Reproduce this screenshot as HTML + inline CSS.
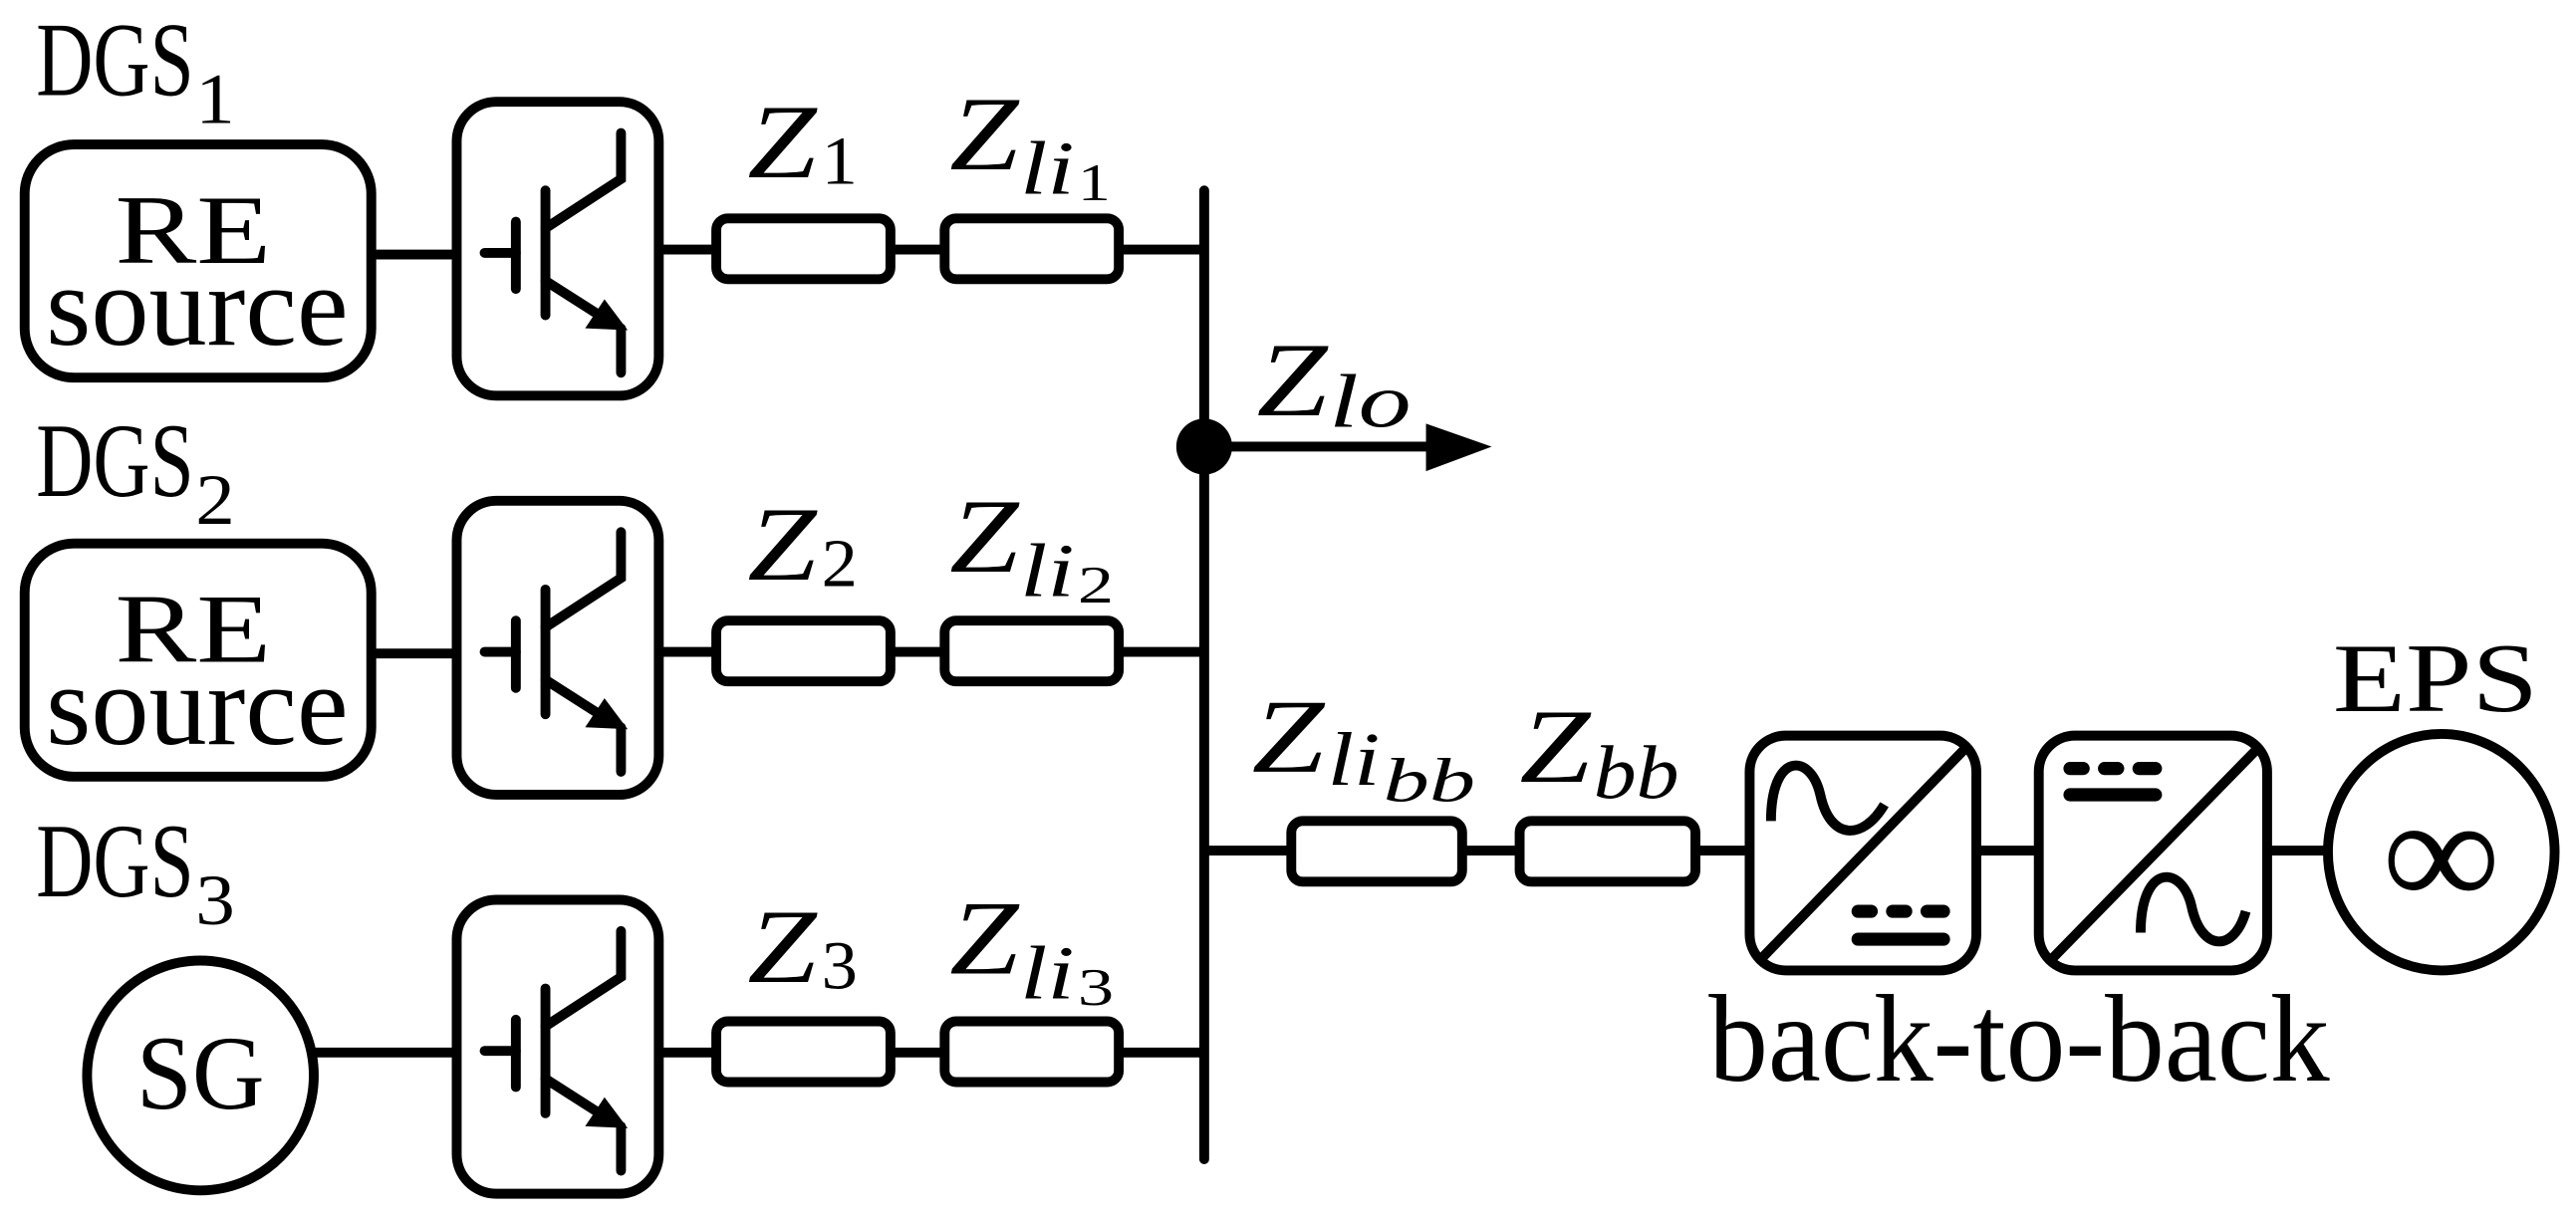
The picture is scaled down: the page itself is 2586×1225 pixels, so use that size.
<!DOCTYPE html>
<html><head><meta charset="utf-8"><style>
html,body{margin:0;padding:0;background:#fff;}
svg{display:block;}
</style></head><body>
<svg width="2586" height="1225" viewBox="0 0 1568 743" preserveAspectRatio="none" xmlns="http://www.w3.org/2000/svg" font-family="'Liberation Serif','DejaVu Serif','Times New Roman',serif">
<defs>
<g id="igbt" fill="none" stroke="#000" stroke-width="6" stroke-linecap="round">
  <rect x="278" y="62" width="123" height="179" rx="24"/>
  <line x1="295" y1="154" x2="314" y2="154"/>
  <line x1="314" y1="135" x2="314" y2="176"/>
  <line x1="332" y1="116" x2="332" y2="192"/>
  <polyline points="332,139 378,109 378,81"/>
  <line x1="332" y1="171" x2="368" y2="194"/>
  <line x1="378" y1="200" x2="378" y2="227"/>
  <polygon points="380,200 358,199 368,184" fill="#000" stroke-width="2"/>
</g>
<g id="zz" fill="none" stroke="#000" stroke-width="6">
  <rect x="436" y="0" width="106" height="37" rx="7"/>
  <rect x="575" y="0" width="106" height="37" rx="7"/>
</g>
</defs>
<g fill="none" stroke="#000" stroke-width="6">
  <rect x="15" y="88" width="211" height="142" rx="30"/>
  <rect x="15" y="331" width="211" height="142" rx="30"/>
  <ellipse cx="122" cy="655" rx="69" ry="70"/>
  <line x1="226" y1="155" x2="278" y2="155"/>
  <line x1="226" y1="398" x2="278" y2="398"/>
  <line x1="191" y1="641" x2="278" y2="641"/>
  <line x1="401" y1="152" x2="436" y2="152"/>
  <line x1="542" y1="152" x2="575" y2="152"/>
  <line x1="681" y1="152" x2="733" y2="152"/>
  <line x1="401" y1="397" x2="436" y2="397"/>
  <line x1="542" y1="397" x2="575" y2="397"/>
  <line x1="681" y1="397" x2="733" y2="397"/>
  <line x1="401" y1="641" x2="436" y2="641"/>
  <line x1="542" y1="641" x2="575" y2="641"/>
  <line x1="681" y1="641" x2="733" y2="641"/>
  <line x1="733" y1="116" x2="733" y2="706" stroke-linecap="round"/>
  <line x1="733" y1="272" x2="875" y2="272"/>
  <line x1="733" y1="518" x2="786" y2="518"/>
  <rect x="786" y="500" width="104" height="37" rx="7"/>
  <line x1="890" y1="518" x2="925" y2="518"/>
  <rect x="925" y="500" width="107" height="37" rx="7"/>
  <line x1="1032" y1="518" x2="1064" y2="518"/>
  <rect x="1065" y="448" width="138" height="143" rx="22"/>
  <line x1="1203" y1="518" x2="1241" y2="518"/>
  <rect x="1241" y="448" width="139" height="143" rx="22"/>
  <line x1="1380" y1="518" x2="1417" y2="518"/>
  <ellipse cx="1486" cy="519" rx="69" ry="72"/>
  <line x1="1198" y1="454" x2="1070" y2="586"/>
  <path d="M1078,500 C1078,458 1102,458 1108,484 C1114,512 1134,512 1147,490"/>
  <line x1="1376" y1="454" x2="1247" y2="586"/>
  <path d="M1303,568 C1303,526 1328,526 1334,552 C1340,580 1360,580 1367,555"/>
</g>
<g stroke="#000" stroke-width="8" stroke-linecap="round">
  <line x1="1131" y1="555" x2="1139" y2="555"/>
  <line x1="1152" y1="555" x2="1160" y2="555"/>
  <line x1="1173" y1="555" x2="1183" y2="555"/>
  <line x1="1131" y1="572" x2="1183" y2="572"/>
  <line x1="1260" y1="468" x2="1268" y2="468"/>
  <line x1="1281" y1="468" x2="1289" y2="468"/>
  <line x1="1302" y1="468" x2="1312" y2="468"/>
  <line x1="1260" y1="484" x2="1312" y2="484"/>
</g>
<circle cx="733" cy="272" r="17" fill="#000"/>
<polygon points="868,258 908,272 868,287" fill="#000"/>
<use href="#igbt"/>
<use href="#igbt" y="243"/>
<use href="#igbt" y="486"/>
<use href="#zz" y="133"/>
<use href="#zz" y="378"/>
<use href="#zz" y="622"/>
<g fill="#000">
<text x="22" y="58" font-size="64" textLength="96" lengthAdjust="spacingAndGlyphs">DGS</text>
<text x="119" y="75" font-size="44" textLength="24" lengthAdjust="spacingAndGlyphs">1</text>
<text x="22" y="302" font-size="64" textLength="96" lengthAdjust="spacingAndGlyphs">DGS</text>
<text x="119" y="319" font-size="44" textLength="24" lengthAdjust="spacingAndGlyphs">2</text>
<text x="22" y="546" font-size="64" textLength="96" lengthAdjust="spacingAndGlyphs">DGS</text>
<text x="119" y="563" font-size="44" textLength="24" lengthAdjust="spacingAndGlyphs">3</text>

<text x="70" y="160" font-size="60" textLength="95" lengthAdjust="spacingAndGlyphs">RE</text>
<text x="28" y="210" font-size="70" textLength="184" lengthAdjust="spacingAndGlyphs">source</text>
<text x="70" y="403" font-size="60" textLength="95" lengthAdjust="spacingAndGlyphs">RE</text>
<text x="28" y="453" font-size="70" textLength="184" lengthAdjust="spacingAndGlyphs">source</text>
<text x="83" y="675" font-size="64" textLength="78" lengthAdjust="spacingAndGlyphs">SG</text>
<text x="1420" y="433" font-size="60" textLength="125" lengthAdjust="spacingAndGlyphs">EPS</text>
<text x="1040" y="658" font-size="76" textLength="378" lengthAdjust="spacingAndGlyphs">back-to-back</text>
<text x="1450" y="552" font-size="96" textLength="72" lengthAdjust="spacingAndGlyphs">∞</text>
</g>
<g fill="#000" font-style="italic">
<text x="455" y="108" font-size="64" textLength="42" lengthAdjust="spacingAndGlyphs">Z</text>
<text x="500" y="112" font-size="42" font-style="normal" textLength="22" lengthAdjust="spacingAndGlyphs">1</text>
<text x="578" y="103" font-size="64" textLength="42" lengthAdjust="spacingAndGlyphs">Z</text>
<text x="621" y="118" font-size="46" textLength="33" lengthAdjust="spacingAndGlyphs">li</text>
<text x="656" y="122" font-size="32" font-style="normal" textLength="20" lengthAdjust="spacingAndGlyphs">1</text>

<text x="455" y="353" font-size="64" textLength="42" lengthAdjust="spacingAndGlyphs">Z</text>
<text x="500" y="357" font-size="42" font-style="normal" textLength="22" lengthAdjust="spacingAndGlyphs">2</text>
<text x="578" y="348" font-size="64" textLength="42" lengthAdjust="spacingAndGlyphs">Z</text>
<text x="621" y="363" font-size="46" textLength="33" lengthAdjust="spacingAndGlyphs">li</text>
<text x="656" y="367" font-size="32" font-style="normal" textLength="22" lengthAdjust="spacingAndGlyphs">2</text>

<text x="455" y="598" font-size="64" textLength="42" lengthAdjust="spacingAndGlyphs">Z</text>
<text x="500" y="602" font-size="42" font-style="normal" textLength="22" lengthAdjust="spacingAndGlyphs">3</text>
<text x="578" y="593" font-size="64" textLength="42" lengthAdjust="spacingAndGlyphs">Z</text>
<text x="621" y="608" font-size="46" textLength="33" lengthAdjust="spacingAndGlyphs">li</text>
<text x="656" y="612" font-size="32" font-style="normal" textLength="22" lengthAdjust="spacingAndGlyphs">3</text>

<text x="765" y="253" font-size="64" textLength="43" lengthAdjust="spacingAndGlyphs">Z</text>
<text x="809" y="260" font-size="46" textLength="50" lengthAdjust="spacingAndGlyphs">lo</text>

<text x="762" y="470" font-size="64" textLength="44" lengthAdjust="spacingAndGlyphs">Z</text>
<text x="808" y="478" font-size="46" textLength="32" lengthAdjust="spacingAndGlyphs">li</text>
<text x="842" y="488" font-size="38" textLength="56" lengthAdjust="spacingAndGlyphs">bb</text>
<text x="925" y="476" font-size="64" textLength="43" lengthAdjust="spacingAndGlyphs">Z</text>
<text x="970" y="486" font-size="46" textLength="52" lengthAdjust="spacingAndGlyphs">bb</text>
</g>
</svg>
</body></html>
